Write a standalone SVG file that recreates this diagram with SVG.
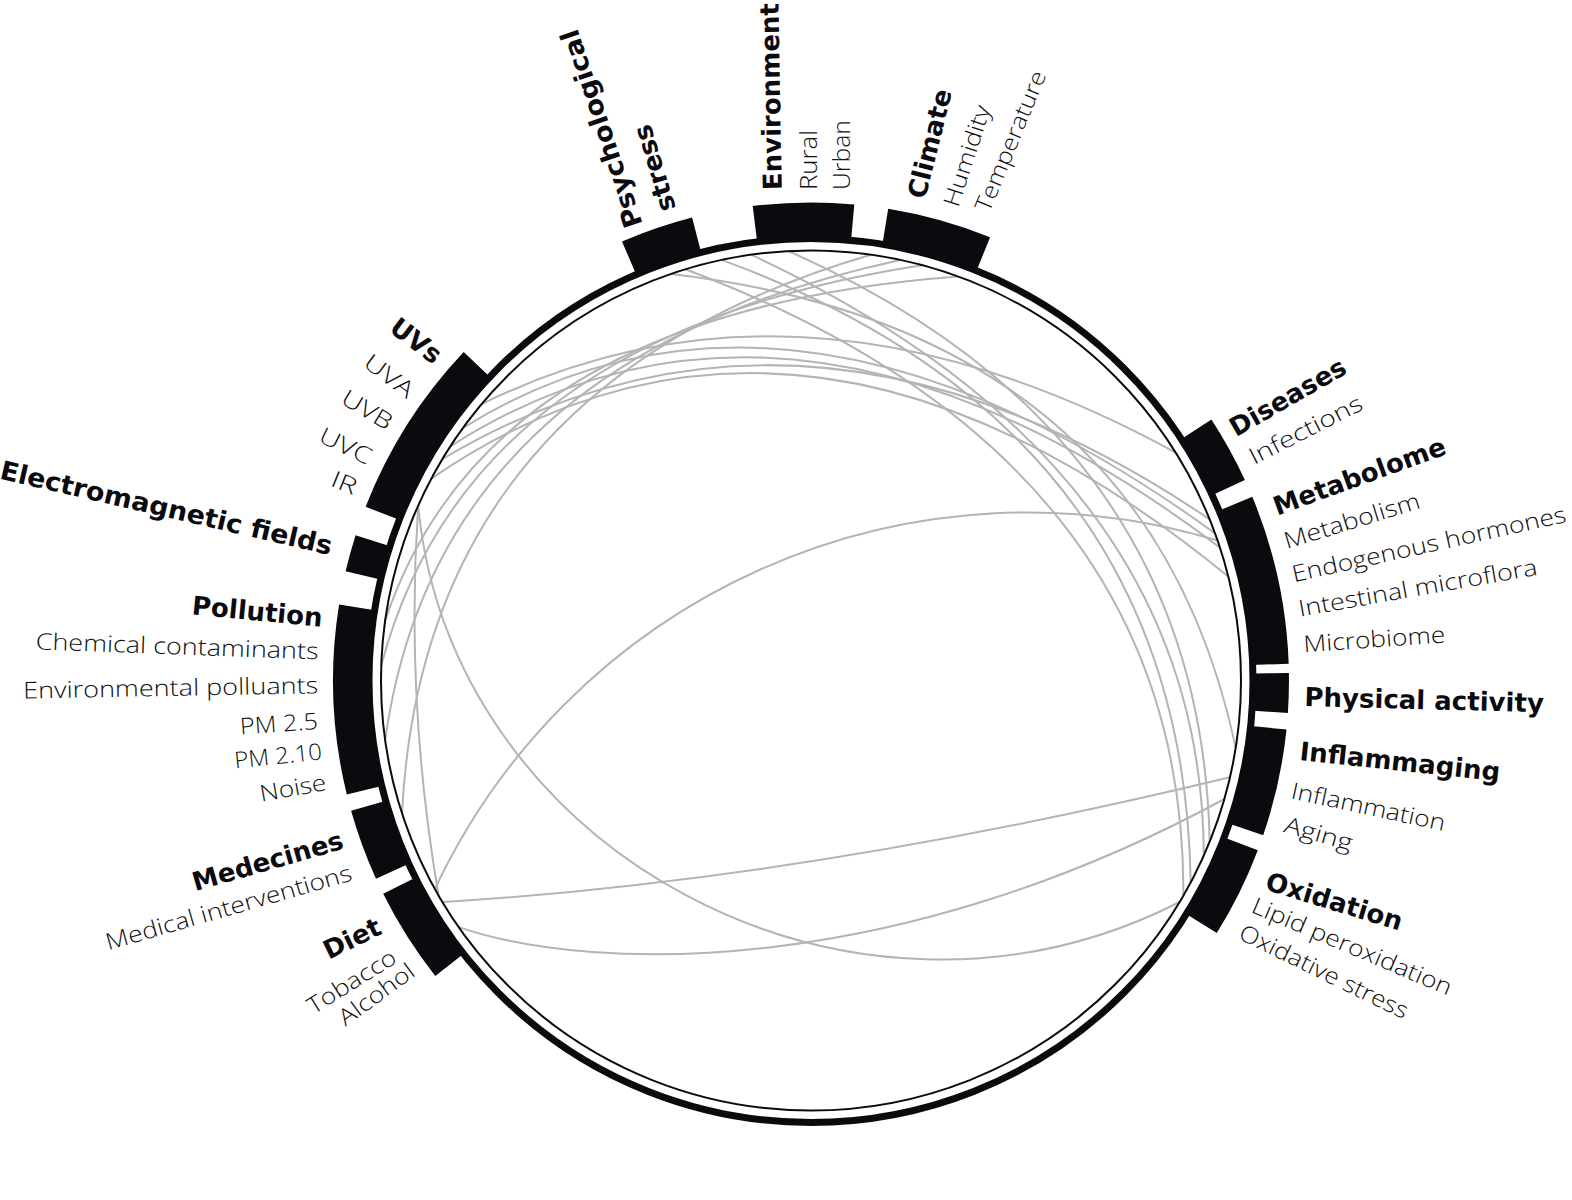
<svg xmlns="http://www.w3.org/2000/svg" width="1572" height="1200" viewBox="0 0 1572 1200">
<style>
.blk{fill:#0b0b0f}
.ring{fill:none;stroke:#0b0b0f;stroke-width:7}
.thin{fill:none;stroke:#0b0b0f;stroke-width:2}
.lnk{fill:none;stroke:#b4b4b4;stroke-width:2}
.h{font-family:"DejaVu Sans",sans-serif;font-weight:bold;font-size:26px;fill:#0b0b0f}
.s{font-family:"Open Sans","Inter",sans-serif;font-weight:300;font-size:23px;fill:#111111}
.e{text-anchor:end}
</style>
<rect width="1572" height="1200" fill="#ffffff"/>
<g id="connectors">
<path class="lnk" d="M481.6,404.1 Q801.3,247.6 1175.7,452.6"/>
<path class="lnk" d="M463.1,427.8 Q790.9,225.4 1215.1,533.4"/>
<path class="lnk" d="M450.4,446.3 Q794.8,227 1220,547.6"/>
<path class="lnk" d="M442.4,459 Q804,244.8 1209.7,519.4"/>
<path class="lnk" d="M431.3,478.6 Q800.2,226.4 1228.2,576.5"/>
<path class="lnk" d="M721.6,259.9 Q1183.8,428.8 1190.7,882.4"/>
<path class="lnk" d="M751.1,254.7 Q1202.5,464.9 1203.8,855.4"/>
<path class="lnk" d="M685.3,269.3 Q1185.6,457.6 1183.4,895.5"/>
<path class="lnk" d="M788.5,251.1 Q1200.9,433.6 1209.7,841.6"/>
<path class="lnk" d="M671,274 Q1146.6,329.1 1235.7,747.8"/>
<path class="lnk" d="M922.3,265.2 Q468.2,334.6 381.3,665.5"/>
<path class="lnk" d="M958.1,276.4 Q488.3,311.5 385.2,620.6"/>
<path class="lnk" d="M900.4,259.9 Q437.2,359.8 385.2,740.4"/>
<path class="lnk" d="M870.9,254.7 Q423.5,385.9 402,813.4"/>
<path class="lnk" d="M418.2,505.6 Q405,700 438.6,895.5"/>
<path class="lnk" d="M434.9,889 A655,655 0 0 1 1217.6,540.5"/>
<path class="lnk" d="M418.2,505.6 C450,850 850,1070 1179.6,902"/>
<path class="lnk" d="M458.7,927.1 C600,975 900,975 1224.4,799"/>
<path class="lnk" d="M442.4,902 Q803.8,880.3 1230,777.3"/>
</g>
<g id="ring">
<circle class="ring" cx="811" cy="680.5" r="442"/>
<circle class="thin" cx="811" cy="680.5" r="430"/>
</g>
<g id="node-psych">
<path class="blk" d="M637,276.4 L622,241.5 A478,478 0 0 1 692.1,217.5 L701.6,254.3 A440,440 0 0 0 637,276.4 Z"/>
<text class="h" transform="translate(642.7,224) rotate(-108.5)" textLength="207" lengthAdjust="spacingAndGlyphs">Psychological</text>
<text class="h" transform="translate(676,208.3) rotate(-107)">stress</text>
</g>
<g id="node-environment">
<path class="blk" d="M757.4,243.8 L752.7,206.1 A478,478 0 0 1 854.3,204.5 L850.9,242.3 A440,440 0 0 0 757.4,243.8 Z"/>
<text class="h" transform="translate(781.7,190) rotate(-91)">Environment</text>
<text class="s" transform="translate(816.7,190) rotate(-90)" textLength="60" lengthAdjust="spacingAndGlyphs">Rural</text>
<text class="s" transform="translate(850,190) rotate(-90)" textLength="70" lengthAdjust="spacingAndGlyphs">Urban</text>
</g>
<g id="node-climate">
<path class="blk" d="M882.1,246.3 L888.2,208.8 A478,478 0 0 1 990.1,237.3 L975.8,272.5 A440,440 0 0 0 882.1,246.3 Z"/>
<text class="h" transform="translate(925,200) rotate(-76)">Climate</text>
<text class="s" transform="translate(958.3,208.3) rotate(-72)" textLength="105" lengthAdjust="spacingAndGlyphs">Humidity</text>
<text class="s" transform="translate(989.3,213.3) rotate(-67.5)" textLength="150" lengthAdjust="spacingAndGlyphs">Temperature</text>
</g>
<g id="node-uvs">
<path class="blk" d="M401.1,520.6 L365.6,506.8 A478,478 0 0 1 463.7,352.1 L491.3,378.2 A440,440 0 0 0 401.1,520.6 Z"/>
<text class="h e" transform="translate(433.3,365) rotate(37)">UVs</text>
<text class="s e" transform="translate(406.7,399.3) rotate(37)" textLength="56" lengthAdjust="spacingAndGlyphs">UVA</text>
<text class="s e" transform="translate(386.7,430.7) rotate(31)" textLength="55" lengthAdjust="spacingAndGlyphs">UVB</text>
<text class="s e" transform="translate(366.7,465) rotate(26)" textLength="55" lengthAdjust="spacingAndGlyphs">UVC</text>
<text class="s e" transform="translate(353.3,495) rotate(22)" textLength="26" lengthAdjust="spacingAndGlyphs">IR</text>
</g>
<g id="node-emf">
<path class="blk" d="M382.6,580 L345.6,571.3 A478,478 0 0 1 355.6,535.2 L391.8,546.7 A440,440 0 0 0 382.6,580 Z"/>
<text class="h e" transform="translate(330,555) rotate(13)" textLength="340" lengthAdjust="spacingAndGlyphs">Electromagnetic fields</text>
</g>
<g id="node-pollution">
<path class="blk" d="M383.7,785.4 L346.8,794.5 A478,478 0 0 1 339.1,604.5 L376.6,610.5 A440,440 0 0 0 383.7,785.4 Z"/>
<text class="h e" transform="translate(321.7,626.7) rotate(5.5)">Pollution</text>
<text class="s e" transform="translate(318.3,659.3) rotate(2)" textLength="283" lengthAdjust="spacingAndGlyphs">Chemical contaminants</text>
<text class="s e" transform="translate(318.3,693.3) rotate(-1)" textLength="295" lengthAdjust="spacingAndGlyphs">Environmental polluants</text>
<text class="s e" transform="translate(318.3,729) rotate(-4)" textLength="78" lengthAdjust="spacingAndGlyphs">PM 2.5</text>
<text class="s e" transform="translate(322.7,759.3) rotate(-6)" textLength="88" lengthAdjust="spacingAndGlyphs">PM 2.10</text>
<text class="s e" transform="translate(327.3,790) rotate(-10)" textLength="67" lengthAdjust="spacingAndGlyphs">Noise</text>
</g>
<g id="node-medecines">
<path class="blk" d="M410.6,863 L376,878.7 A478,478 0 0 1 351.1,810.7 L387.6,800.3 A440,440 0 0 0 410.6,863 Z"/>
<text class="h e" transform="translate(345,848.3) rotate(-16)">Medecines</text>
<text class="s e" transform="translate(353.3,880) rotate(-16)" textLength="255" lengthAdjust="spacingAndGlyphs">Medical interventions</text>
</g>
<g id="node-diet">
<path class="blk" d="M465.2,952.6 L435.3,976.1 A478,478 0 0 1 383.2,893.8 L417.2,876.8 A440,440 0 0 0 465.2,952.6 Z"/>
<text class="h e" transform="translate(383.3,933.3) rotate(-26)">Diet</text>
<text class="s e" transform="translate(398.3,961.7) rotate(-32)" textLength="100" lengthAdjust="spacingAndGlyphs">Tobacco</text>
<text class="s e" transform="translate(416.7,975) rotate(-36)" textLength="88" lengthAdjust="spacingAndGlyphs">Alcohol</text>
</g>
<g id="node-diseases">
<path class="blk" d="M1179.6,440.2 L1211.4,419.5 A478,478 0 0 1 1244.9,480 L1210.4,495.9 A440,440 0 0 0 1179.6,440.2 Z"/>
<text class="h" transform="translate(1236,437.3) rotate(-30)">Diseases</text>
<text class="s" transform="translate(1254,465) rotate(-27)" textLength="124" lengthAdjust="spacingAndGlyphs">Infections</text>
</g>
<g id="node-metabolome">
<path class="blk" d="M1217.2,511.4 L1252.3,496.8 A478,478 0 0 1 1288.7,663.8 L1250.7,665.1 A440,440 0 0 0 1217.2,511.4 Z"/>
<text class="h" transform="translate(1277.3,515.7) rotate(-20)">Metabolome</text>
<text class="s" transform="translate(1286.7,549) rotate(-17)" textLength="141" lengthAdjust="spacingAndGlyphs">Metabolism</text>
<text class="s" transform="translate(1294,582.3) rotate(-12.5)" textLength="280" lengthAdjust="spacingAndGlyphs">Endogenous hormones</text>
<text class="s" transform="translate(1300,616.7) rotate(-10)" textLength="242" lengthAdjust="spacingAndGlyphs">Intestinal microflora</text>
<text class="s" transform="translate(1304,652.3) rotate(-4)" textLength="142" lengthAdjust="spacingAndGlyphs">Microbiome</text>
</g>
<g id="node-physical">
<path class="blk" d="M1250.9,673.6 L1288.9,673 A478,478 0 0 1 1287.9,713 L1250,710.4 A440,440 0 0 0 1250.9,673.6 Z"/>
<text class="h" transform="translate(1304.3,706) rotate(1.5)">Physical activity</text>
</g>
<g id="node-inflammaging">
<path class="blk" d="M1248.7,725.7 L1286.5,729.6 A478,478 0 0 1 1263.2,835.3 L1227.3,823 A440,440 0 0 0 1248.7,725.7 Z"/>
<text class="h" transform="translate(1299,760) rotate(6)">Inflammaging</text>
<text class="s" transform="translate(1290,798.3) rotate(12)" textLength="157" lengthAdjust="spacingAndGlyphs">Inflammation</text>
<text class="s" transform="translate(1282.7,831.7) rotate(16)" textLength="70" lengthAdjust="spacingAndGlyphs">Aging</text>
</g>
<g id="node-oxidation">
<path class="blk" d="M1222.3,836.7 L1257.8,850.2 A478,478 0 0 1 1216.8,933.1 L1184.6,913 A440,440 0 0 0 1222.3,836.7 Z"/>
<text class="h" transform="translate(1264,889.3) rotate(17)">Oxidation</text>
<text class="s" transform="translate(1250,911.7) rotate(23)" textLength="215" lengthAdjust="spacingAndGlyphs">Lipid peroxidation</text>
<text class="s" transform="translate(1237.3,938.3) rotate(26)" textLength="185" lengthAdjust="spacingAndGlyphs">Oxidative stress</text>
</g>
</svg>
